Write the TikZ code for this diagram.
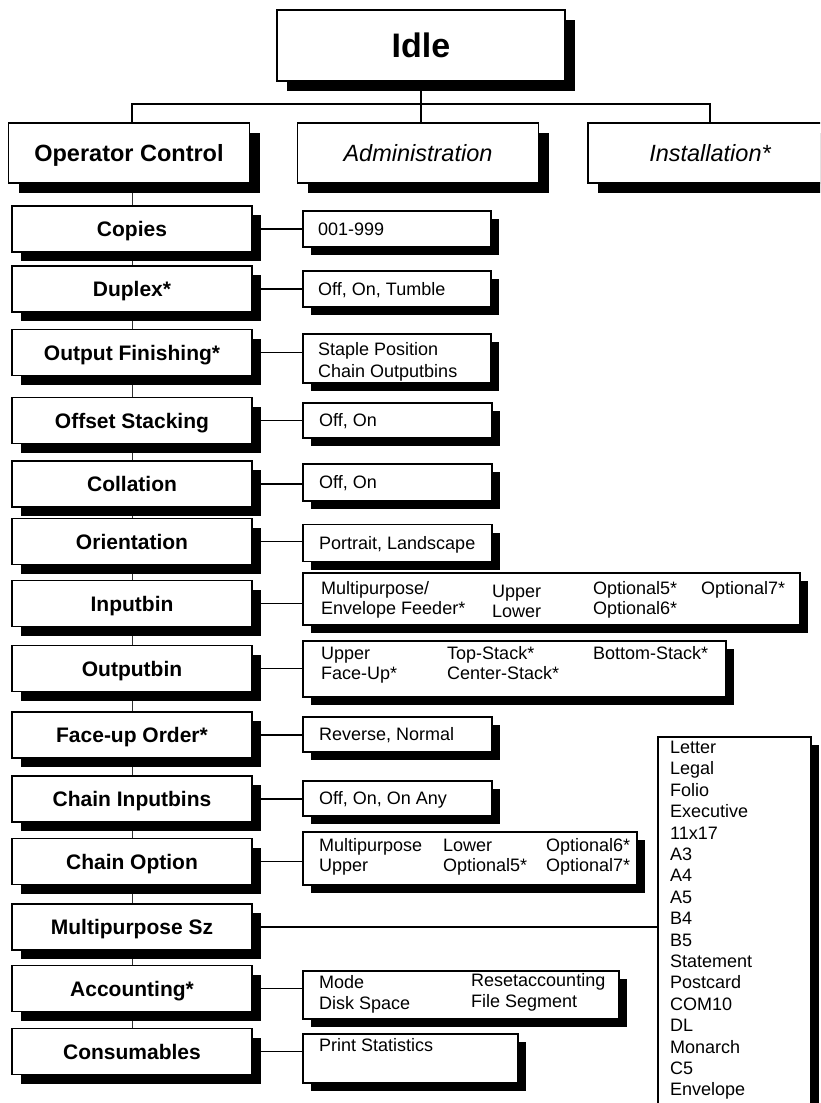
\documentclass[tikz,border=0pt]{standalone}
\usepackage{fontspec}
\setmainfont{Liberation Sans}
\usetikzlibrary{shadows,backgrounds}
\tikzset{
  shad/.style={drop shadow={shadow xshift=#1, shadow yshift=-#1, fill=black, opacity=1}},
  topbox/.style={draw, line width=1.6pt, fill=white, shad=10pt, minimum width=288pt, minimum height=71pt, inner sep=0pt, text height=24.3pt, text depth=0pt, font=\bfseries\fontsize{34}{40}\selectfont},
  lvlbox/.style={draw, line width=1.6pt, fill=white, shad=10pt, minimum width=241pt, minimum height=60pt, inner sep=0pt, text height=16.8pt, text depth=0pt},
  lbox/.style={draw, line width=1.6pt, fill=white, shad=9pt, minimum width=240pt, minimum height=46pt, inner sep=0pt, text height=15pt, text depth=0pt, font=\bfseries\fontsize{21}{25}\selectfont},
  obox/.style={draw, line width=1.5pt, fill=white, shad=8pt, inner sep=0pt, anchor=west},
  otxt/.style={inner sep=0pt, anchor=west, text height=12.9pt, text depth=0pt, font=\fontsize{18}{22}\selectfont},
  conn/.style={line width=1.5pt},
  spine/.style={line width=1pt, draw=black!80},
}
\begin{document}
\begin{tikzpicture}[x=1pt,y=-1pt]
\useasboundingbox (0,0) rectangle (820,1103);
\clip (0,0) rectangle (820,1103);
% top levels
\node[topbox] (idle) at (421,45.5) {Idle};
\node[lvlbox,font=\bfseries\fontsize{23.5}{28}\selectfont] (opctrl) at (129,153) {Operator Control};
\node[lvlbox,font=\itshape\fontsize{23.5}{28}\selectfont] (admin) at (418,153) {Administration};
\node[lvlbox,font=\itshape\fontsize{23.5}{28}\selectfont, minimum width=244pt] (install) at (710,153) {Installation*};
% left column
\node[lbox] (copies) at (132,229) {Copies};
\node[lbox] (duplex) at (132,289) {Duplex*};
\node[lbox] (outfin) at (132,352.5) {Output Finishing*};
\node[lbox] (offset) at (132,420.5) {Offset Stacking};
\node[lbox] (coll) at (132,484) {Collation};
\node[lbox] (orient) at (132,541.5) {Orientation};
\node[lbox] (inbin) at (132,603.5) {Inputbin};
\node[lbox] (outbin) at (132,668.5) {Outputbin};
\node[lbox] (faceup) at (132,735) {Face-up Order*};
\node[lbox] (chainin) at (132,799) {Chain Inputbins};
\node[lbox] (chainopt) at (132,861.5) {Chain Option};
\node[lbox] (mpsz) at (132,927) {Multipurpose Sz};
\node[lbox] (acct) at (132,988.5) {Accounting*};
\node[lbox] (cons) at (132,1051.5) {Consumables};
% option boxes
\node[obox, minimum width=188pt, minimum height=36pt] (copies-o) at (302,229) {};
\node[obox, minimum width=188pt, minimum height=36pt] (duplex-o) at (302,289) {};
\node[obox, minimum width=188pt, minimum height=49pt] (outfin-o) at (302,358.5) {};
\node[obox, minimum width=189pt, minimum height=35pt] (offset-o) at (302,420.5) {};
\node[obox, minimum width=189pt, minimum height=37pt] (coll-o) at (302,482.5) {};
\node[obox, minimum width=189pt, minimum height=37pt] (orient-o) at (302,543) {};
\node[obox, minimum width=497pt, minimum height=52pt] (inbin-o) at (302,599) {};
\node[obox, minimum width=423pt, minimum height=56pt] (outbin-o) at (302,669) {};
\node[obox, minimum width=189pt, minimum height=35pt] (faceup-o) at (302,734.5) {};
\node[obox, minimum width=189pt, minimum height=35pt] (chainin-o) at (302,798.5) {};
\node[obox, minimum width=334pt, minimum height=53pt] (chainopt-o) at (302,858.5) {};
\node[obox, minimum width=316pt, minimum height=48pt] (acct-o) at (302,995) {};
\node[obox, minimum width=215pt, minimum height=49pt] (cons-o) at (302,1058.5) {};
\node[obox, anchor=north west, minimum width=153pt, minimum height=420pt] (sizes) at (657,736) {};
% option texts
\node[otxt] (t-copies) at ([xshift=16pt]copies-o.west) {001-999};
\node[otxt] (t-duplex) at ([xshift=16pt]duplex-o.west) {Off, On, Tumble};
\node[otxt] (t-of1) at (318,349) {Staple Position};
\node[otxt] (t-of2) at (318,371) {Chain Outputbins};
\node[otxt] (t-offset) at ([xshift=17pt]offset-o.west) {Off, On};
\node[otxt] (t-coll) at ([xshift=17pt]coll-o.west) {Off, On};
\node[otxt] (t-orient) at ([xshift=17pt]orient-o.west) {Portrait, Landscape};
\node[otxt] (t-in1) at (321,588) {Multipurpose/};
\node[otxt] (t-in2) at (321,608) {Envelope Feeder*};
\node[otxt] (t-in3) at (492,591) {Upper};
\node[otxt] (t-in4) at (492,611) {Lower};
\node[otxt] (t-in5) at (593,588) {Optional5*};
\node[otxt] (t-in6) at (593,608) {Optional6*};
\node[otxt] (t-in7) at (701,588) {Optional7*};
\node[otxt] (t-ob1) at (321,653) {Upper};
\node[otxt] (t-ob2) at (321,673) {Face-Up*};
\node[otxt] (t-ob3) at (447,653) {Top-Stack*};
\node[otxt] (t-ob4) at (447,673) {Center-Stack*};
\node[otxt] (t-ob5) at (593,653) {Bottom-Stack*};
\node[otxt] (t-face) at ([xshift=17pt]faceup-o.west) {Reverse, Normal};
\node[otxt] (t-chin) at ([xshift=17pt]chainin-o.west) {Off, On, On Any};
\node[otxt] (t-co1) at (319,845) {Multipurpose};
\node[otxt] (t-co2) at (319,865) {Upper};
\node[otxt] (t-co3) at (443,845) {Lower};
\node[otxt] (t-co4) at (443,865) {Optional5*};
\node[otxt] (t-co5) at (546,845) {Optional6*};
\node[otxt] (t-co6) at (546,865) {Optional7*};
\node[otxt] (t-ac1) at (319,982) {Mode};
\node[otxt] (t-ac2) at (319,1003) {Disk Space};
\node[otxt] (t-ac3) at (471,980) {Resetaccounting};
\node[otxt] (t-ac4) at (471,1001) {File Segment};
\node[otxt] (t-cons) at (319,1045) {Print Statistics};
\foreach \s [count=\i from 0] in {Letter,Legal,Folio,Executive,11x17,A3,A4,A5,B4,B5,Statement,Postcard,COM10,DL,Monarch,C5,Envelope}
  \node[otxt] (sz-\i) at (670,{747+21.4*\i}) {\s};
% connectors
\draw[conn] (idle.south) -- (idle.south |- admin.north);
\draw[conn] (opctrl.north -| copies.north) -- ++(0,-18) -| (install.north);
\foreach \a in {copies,duplex,outfin,offset,coll,orient,inbin,outbin,faceup,chainin,chainopt,acct,cons}
  \draw[conn] (\a.east) -- (\a.east -| \a-o.west);
\draw[conn] (mpsz.east) -- (mpsz.east -| sizes.west);
\begin{pgfonlayer}{background}
\draw[spine] (opctrl.south -| copies.north) -- (cons.north);
\end{pgfonlayer}
\end{tikzpicture}
\end{document}
